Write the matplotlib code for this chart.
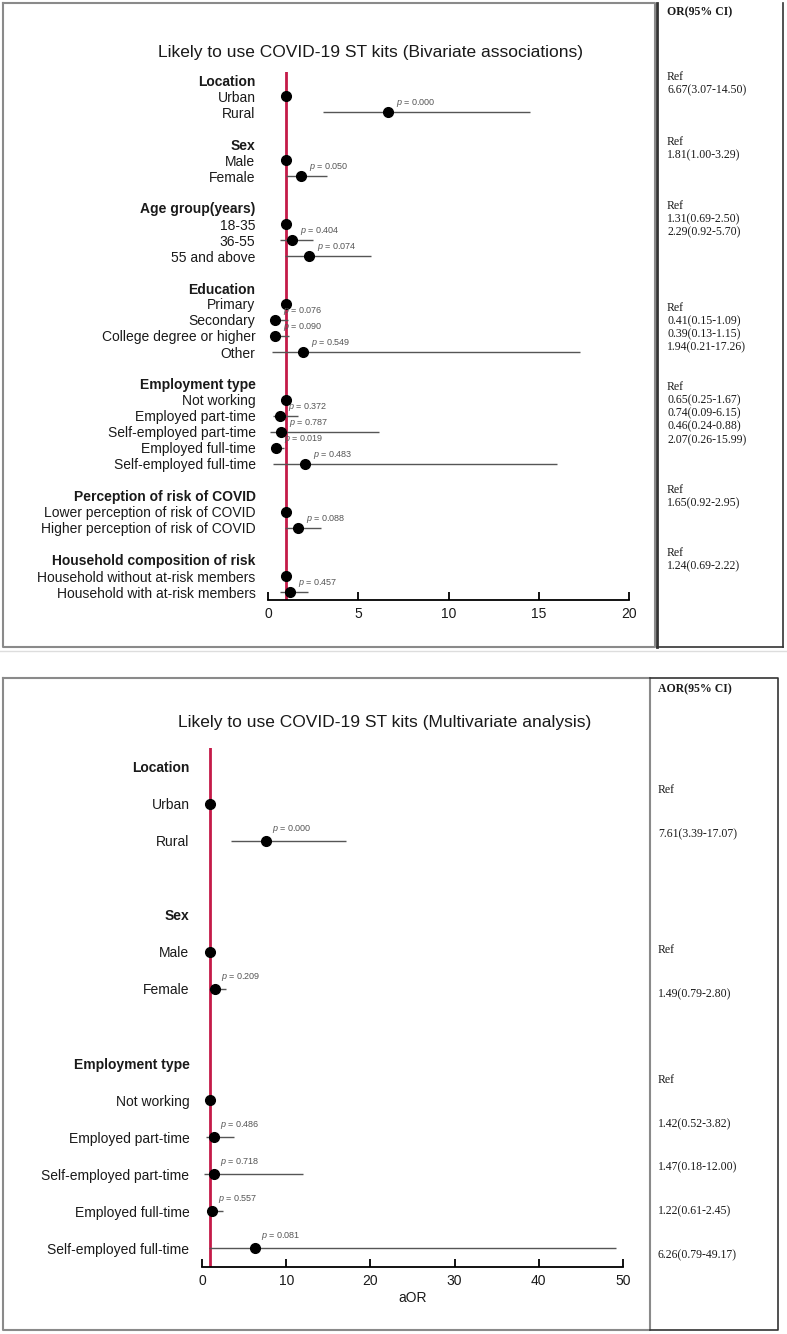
import matplotlib
matplotlib.use("Agg")
import matplotlib.pyplot as plt

plt.rcParams['font.family'] = ['Liberation Sans', 'DejaVu Sans']
plt.rcParams['mathtext.fontset'] = 'custom'
plt.rcParams['mathtext.it'] = 'Liberation Sans:italic'
plt.rcParams['mathtext.rm'] = 'Liberation Sans'

# ---------------- Data: bivariate ----------------
biv_title = "Likely to use COVID-19 ST kits (Bivariate associations)"
biv_groups = ["Location", "Sex", "Age group(years)", "Education", "Employment type",
              "Perception of risk of COVID", "Household composition of risk"]
biv_cats = [["Urban", "Rural"],
            ["Male", "Female"],
            ["18-35", "36-55", "55 and above"],
            ["Primary", "Secondary", "College degree or higher", "Other"],
            ["Not working", "Employed part-time", "Self-employed part-time",
             "Employed full-time", "Self-employed full-time"],
            ["Lower perception of risk of COVID", "Higher perception of risk of COVID"],
            ["Household without at-risk members", "Household with at-risk members"]]
biv_or = [[1, 6.67], [1, 1.81], [1, 1.31, 2.29], [1, 0.41, 0.39, 1.94],
          [1, 0.65, 0.74, 0.46, 2.07], [1, 1.65], [1, 1.24]]
biv_lo = [[None, 3.07], [None, 1.00], [None, 0.69, 0.92], [None, 0.15, 0.13, 0.21],
          [None, 0.25, 0.09, 0.24, 0.26], [None, 0.92], [None, 0.69]]
biv_hi = [[None, 14.50], [None, 3.29], [None, 2.50, 5.70], [None, 1.09, 1.15, 17.26],
          [None, 1.67, 6.15, 0.88, 15.99], [None, 2.95], [None, 2.22]]
biv_p = [[None, "0.000"], [None, "0.050"], [None, "0.404", "0.074"],
         [None, "0.076", "0.090", "0.549"],
         [None, "0.372", "0.787", "0.019", "0.483"], [None, "0.088"], [None, "0.457"]]
biv_xticks = [0, 5, 10, 15, 20]
biv_table_header = "OR(95% CI)"

# ---------------- Data: multivariate ----------------
mv_title = "Likely to use COVID-19 ST kits (Multivariate analysis)"
mv_groups = ["Location", "Sex", "Employment type"]
mv_cats = [["Urban", "Rural"],
           ["Male", "Female"],
           ["Not working", "Employed part-time", "Self-employed part-time",
            "Employed full-time", "Self-employed full-time"]]
mv_or = [[1, 7.61], [1, 1.49], [1, 1.42, 1.47, 1.22, 6.26]]
mv_lo = [[None, 3.39], [None, 0.79], [None, 0.52, 0.18, 0.61, 0.79]]
mv_hi = [[None, 17.07], [None, 2.80], [None, 3.82, 12.00, 2.45, 49.17]]
mv_p = [[None, "0.000"], [None, "0.209"], [None, "0.486", "0.718", "0.557", "0.081"]]
mv_xticks = [0, 10, 20, 30, 40, 50]
mv_table_header = "AOR(95% CI)"
mv_xlabel = "aOR"

W, H = 787, 1334
fig = plt.figure(figsize=(W / 100, H / 100), dpi=100)
fig.patch.set_facecolor('white')

bg = fig.add_axes([0, 0, 1, 1], zorder=-5)
bg.set_xlim(0, W)
bg.set_ylim(H, 0)
bg.axis('off')

RED = '#C41A48'
CI_COLOR = '#555555'
TXT = '#1a1a1a'


def build_rows(groups, cats, ors, los, his, ps):
    rows = []
    for gi, g in enumerate(groups):
        if gi > 0:
            rows.append(("", False, None, None, None, None))
        rows.append((g, True, None, None, None, None))
        for c, o, lo, hi, p in zip(cats[gi], ors[gi], los[gi], his[gi], ps[gi]):
            rows.append((c, False, o, lo, hi, p))
    return rows


def px_axes(l, t, r, b):
    return fig.add_axes([l / W, 1 - b / H, (r - l) / W, (b - t) / H])


def forest(ax, rows, xticks, poff):
    n = len(rows)
    ax.axvline(1, color=RED, lw=2.0, zorder=1)
    for i, (lab, hdr, o, lo, hi, p) in enumerate(rows):
        if o is None:
            continue
        if lo is not None:
            ax.plot([lo, hi], [i, i], color=CI_COLOR, lw=1.0, zorder=2,
                    solid_capstyle='butt')
        ax.plot(o, i, 'o', color='black', ms=7, zorder=3)
        if p is not None:
            ax.annotate(r"$\mathit{p}$ = " + p, xy=(o, i), xytext=poff,
                        textcoords='offset pixels', ha='left', va='center',
                        fontsize=6.5, color='#555555', zorder=4)
    ax.set_xlim(xticks[0], xticks[-1])
    ax.set_ylim(n - 0.5, -0.5)
    ax.set_yticks(range(n))
    ax.set_yticklabels([r[0] for r in rows])
    for tl, r in zip(ax.get_yticklabels(), rows):
        if r[1]:
            tl.set_fontweight('bold')
    ax.tick_params(axis='y', length=0, pad=9, labelsize=10, labelcolor=TXT)
    ax.set_xticks(xticks)
    ax.tick_params(axis='x', direction='in', length=6, width=1.3, labelsize=10,
                   pad=5, labelcolor=TXT)
    for s in ['top', 'right', 'left']:
        ax.spines[s].set_visible(False)
    ax.spines['bottom'].set_linewidth(1.3)
    ax.patch.set_alpha(0)


# ---------------- Top panel ----------------
rows_b = build_rows(biv_groups, biv_cats, biv_or, biv_lo, biv_hi, biv_p)
ax1 = px_axes(268, 72, 629, 600)
forest(ax1, rows_b, biv_xticks, (8, 9))
bg.text(370, 53, biv_title, ha='center', va='center', fontsize=12.5, color=TXT)

# frames
bg.plot([3, 3, 655, 655, 3], [3, 647, 647, 3, 3], color='#8a8a8a', lw=1.5)
bg.plot([657, 657], [3, 647], color='#333333', lw=2.0)
bg.plot([783, 783], [3, 647], color='#333333', lw=1.2)
bg.plot([657, 783], [647, 647], color='#333333', lw=1.2)

# table text
bg.text(667, 12, biv_table_header, fontsize=8.5, fontweight='bold',
        family='Liberation Serif', va='center', ha='left', color=TXT)
biv_table_starts = [77, 142, 206, 308, 387, 490, 553]
for gi in range(len(biv_groups)):
    y0 = biv_table_starts[gi]
    for j, (o, lo, hi) in enumerate(zip(biv_or[gi], biv_lo[gi], biv_hi[gi])):
        s = "Ref" if lo is None else f"{o:.2f}({lo:.2f}-{hi:.2f})"
        bg.text(667, y0 + j * 13.2, s, fontsize=8.5, family='Liberation Serif',
                va='center', ha='left', color=TXT)

# ---------------- Bottom panel ----------------
rows_m = build_rows(mv_groups, mv_cats, mv_or, mv_lo, mv_hi, mv_p)
ax2 = px_axes(202, 748, 623, 1267)
forest(ax2, rows_m, mv_xticks, (6, 12))
ax2.set_xlabel(mv_xlabel, fontsize=10, labelpad=2, color=TXT)
bg.text(385, 723, mv_title, ha='center', va='center', fontsize=12.5, color=TXT)

bg.plot([0, W], [651, 651], color='#dddddd', lw=1.0)
bg.plot([3, 3, 650, 650, 3], [678, 1330, 1330, 678, 678], color='#8a8a8a', lw=1.5)
bg.plot([650, 778, 778, 650], [678, 678, 1330, 1330], color='#333333', lw=1.2)

bg.text(658, 689, mv_table_header, fontsize=8.5, fontweight='bold',
        family='Liberation Serif', va='center', ha='left', color=TXT)
mv_table_starts = [790, 950, 1080]
for gi in range(len(mv_groups)):
    y0 = mv_table_starts[gi]
    for j, (o, lo, hi) in enumerate(zip(mv_or[gi], mv_lo[gi], mv_hi[gi])):
        s = "Ref" if lo is None else f"{o:.2f}({lo:.2f}-{hi:.2f})"
        bg.text(658, y0 + j * 43.8, s, fontsize=8.5, family='Liberation Serif',
                va='center', ha='left', color=TXT)

fig.savefig("out.png", dpi=100)
